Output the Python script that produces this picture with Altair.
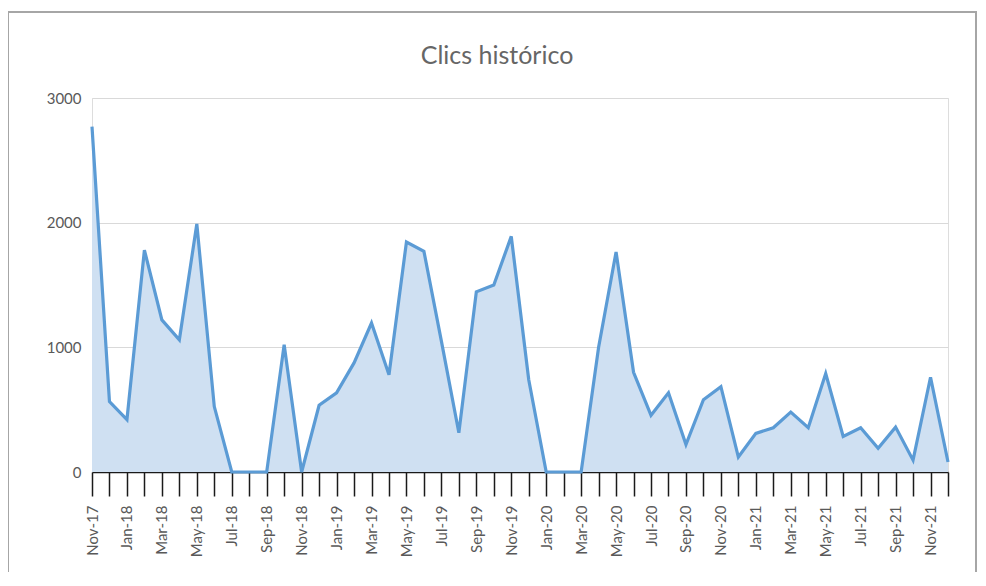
import altair as alt
import pandas as pd

months = [d.strftime("%b-%y") for d in pd.date_range("2017-11-01", "2021-12-01", freq="MS")]
clicks = [2770, 565, 420, 1780, 1220, 1060, 1990, 525, 0, 0,
          0, 1020, 0, 535, 635, 875, 1195, 780, 1845, 1770,
          1050, 315, 1445, 1500, 1890, 740, 0, 0, 0, 1000,
          1765, 800, 455, 635, 220, 580, 685, 120, 310, 355,
          480, 355, 790, 285, 355, 190, 360, 95, 760, 80]

df = pd.DataFrame({"month": months, "clicks": clicks})

FONT = "Lato"
x_enc = alt.X("month:O", sort=months,
              scale=alt.Scale(type="point", padding=0),
              axis=alt.Axis(title=None, labelAngle=-90, tickSize=24, tickColor="#1a1a1a",
                            tickWidth=1.5, domainColor="#1a1a1a", domainWidth=1.5,
                            labelColor="#595959", labelFontSize=15, labelFont=FONT,
                            labelPadding=9, grid=False,
                            labelExpr="test(/^(Nov|Jan|Mar|May|Jul|Sep)/, datum.value) ? datum.value : ''"))
y_enc = alt.Y("clicks:Q", scale=alt.Scale(domain=[0, 3000], nice=False),
              axis=alt.Axis(title=None, values=[0, 1000, 2000, 3000], format="d", domain=False, ticks=False,
                            gridColor="#D9D9D9", gridWidth=1, labelColor="#595959",
                            labelFontSize=15, labelFont=FONT, labelPadding=11))

base = alt.Chart(df)
area = base.mark_area(color="#CFE0F2", opacity=1).encode(x=x_enc, y=y_enc)
line = base.mark_line(color="#5B9BD5", strokeWidth=3.2, strokeJoin="miter").encode(x=x_enc, y=y_enc)
frame = alt.Chart(pd.DataFrame({"a": [0]})).mark_rect(fill=None, stroke="#A6A6A6", strokeWidth=2).encode(
    x=alt.value(-84), x2=alt.value(884), y=alt.value(-86), y2=alt.value(520))

chart = alt.layer(area, line, frame).properties(
    width=856, height=374,
    title=alt.TitleParams("Clics histórico", font=FONT, fontSize=25, fontWeight="normal",
                          color="#666666", anchor="middle", frame="group", dx=-23, offset=-58),
    autosize=alt.AutoSizeParams(type="none"),
    padding={"left": 84, "top": 90, "right": 30, "bottom": 100},
).configure_view(stroke=None).configure(background="white")

chart.save("out.html", embed_options={"renderer": "svg", "actions": False})
